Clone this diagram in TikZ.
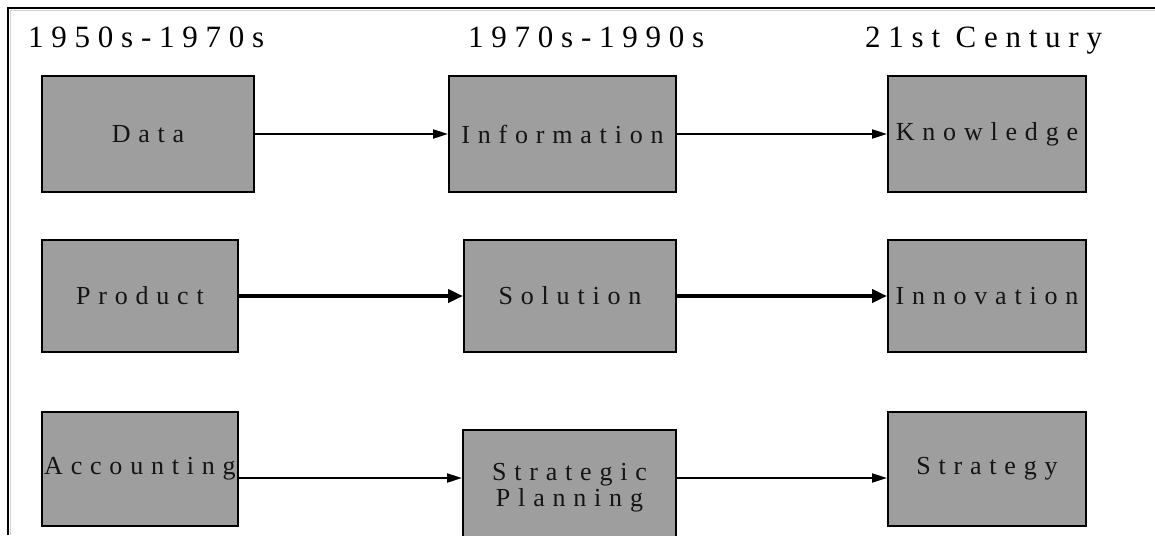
\documentclass[tikz,border=0pt]{standalone}
\usepackage{fontspec}
\setmainfont{Liberation Serif}
\newfontfamily\hdrfont[LetterSpace=25]{Liberation Serif}
\newfontfamily\boxfont[LetterSpace=30]{Liberation Serif}
\usetikzlibrary{arrows.meta}
\definecolor{boxgray}{RGB}{158,158,158}
\begin{document}
\begin{tikzpicture}[x=1pt,y=-1pt,
  box/.style={draw=black,line width=2pt,fill=boxgray,inner sep=0pt,align=center,
    text=black!92,font=\boxfont\fontsize{26}{26}\selectfont},
  hdr/.style={anchor=base west,inner sep=0pt,font=\hdrfont\fontsize{31}{34}\selectfont},
  thinarrow/.style={line width=2pt,-{Triangle[length=15pt,width=9pt]}},
  thickarrow/.style={line width=4pt,-{Triangle[length=15pt,width=13pt]}}]
\clip (0,0) rectangle (1155,535);
% frame
\draw[gray!35,line width=1pt] (1155,10.5) -- (10.5,10.5) -- (10.5,535);
\draw[line width=2pt] (1155,8) -- (8,8) -- (8,535);
% headers
\node[hdr] (h1) at (28,48) {1950s-1970s};
\node[hdr] (h2) at (468,48) {1970s-1990s};
\node[hdr] (h3) at (865,48) {21st Century};
% row 1
\node[box,minimum width=212pt,minimum height=116pt] (data) at (148,134) {Data};
\node[box,minimum width=227pt,minimum height=116pt] (info) at (562.5,134) {Information};
\node[box,minimum width=198pt,minimum height=116pt] (know) at (987,134) {Knowledge};
% row 2
\node[box,minimum width=196pt,minimum height=112pt] (prod) at (140,296) {Product};
\node[box,minimum width=212pt,minimum height=112pt] (sol) at (570,296) {Solution};
\node[box,minimum width=198pt,minimum height=112pt] (innov) at (987,296) {Innovation};
% row 3
\node[box,minimum width=196pt,minimum height=114pt] (acc) at (140,469) {Accounting};
\node[box,minimum width=213pt,minimum height=115pt] (strat) at (569.5,487.5) {Strategic\\Planning};
\node[box,minimum width=198pt,minimum height=114pt] (strg) at (987,469) {Strategy};
% connectors
\draw[thinarrow] (data.east) -- (info.west);
\draw[thinarrow] (info.east) -- (know.west);
\draw[thickarrow] (prod.east) -- (sol.west);
\draw[thickarrow] (sol.east) -- (innov.west);
\draw[thinarrow] ([yshift=-9pt]acc.east) -- ([yshift=-9pt]acc.east -| strat.west);
\draw[thinarrow] ([yshift=-9pt]acc.east -| strat.east) -- ([yshift=-9pt]strg.west);
\end{tikzpicture}
\end{document}
